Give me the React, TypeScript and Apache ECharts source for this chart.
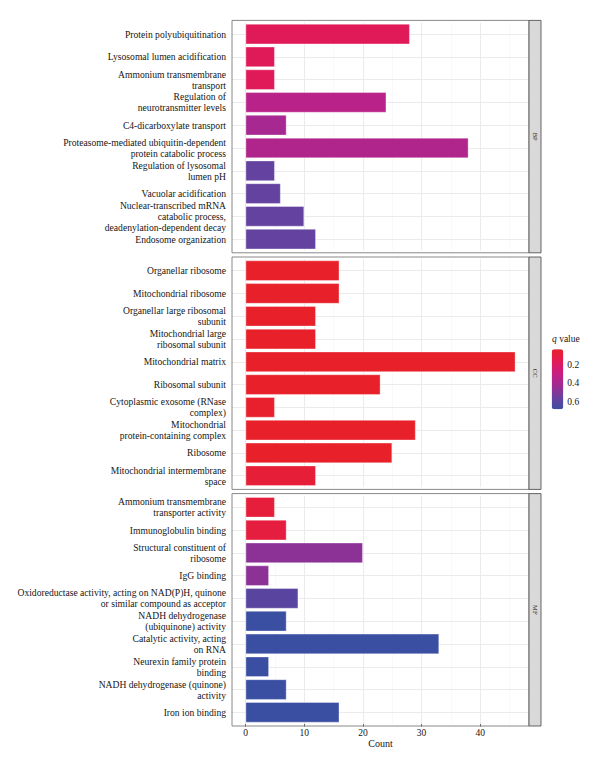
import React, { useEffect, useRef } from "react";
import * as echarts from "echarts";

// ---------------- data ----------------
const bpTerms = [
  "Protein polyubiquitination",
  "Lysosomal lumen acidification",
  "Ammonium transmembrane\ntransport",
  "Regulation of\nneurotransmitter levels",
  "C4-dicarboxylate transport",
  "Proteasome-mediated ubiquitin-dependent\nprotein catabolic process",
  "Regulation of lysosomal\nlumen pH",
  "Vacuolar acidification",
  "Nuclear-transcribed mRNA\ncatabolic process,\ndeadenylation-dependent decay",
  "Endosome organization",
];
const bpCounts = [28, 5, 5, 24, 7, 38, 5, 6, 10, 12];
const bpQ = [0.17, 0.17, 0.17, 0.34, 0.4, 0.37, 0.57, 0.57, 0.57, 0.57];

const ccTerms = [
  "Organellar ribosome",
  "Mitochondrial ribosome",
  "Organellar large ribosomal\nsubunit",
  "Mitochondrial large\nribosomal subunit",
  "Mitochondrial matrix",
  "Ribosomal subunit",
  "Cytoplasmic exosome (RNase\ncomplex)",
  "Mitochondrial\nprotein-containing complex",
  "Ribosome",
  "Mitochondrial intermembrane\nspace",
];
const ccCounts = [16, 16, 12, 12, 46, 23, 5, 29, 25, 12];
const ccQ = [0.03, 0.03, 0.03, 0.03, 0.03, 0.03, 0.04, 0.03, 0.03, 0.07];

const mfTerms = [
  "Ammonium transmembrane\ntransporter activity",
  "Immunoglobulin binding",
  "Structural constituent of\nribosome",
  "IgG binding",
  "Oxidoreductase activity, acting on NAD(P)H, quinone\nor similar compound as acceptor",
  "NADH dehydrogenase\n(ubiquinone) activity",
  "Catalytic activity, acting\non RNA",
  "Neurexin family protein\nbinding",
  "NADH dehydrogenase (quinone)\nactivity",
  "Iron ion binding",
];
const mfCounts = [5, 7, 20, 4, 9, 7, 33, 4, 7, 16];
const mfQ = [0.08, 0.09, 0.47, 0.47, 0.6, 0.68, 0.68, 0.68, 0.68, 0.68];

const facetLabels = ["BP", "CC", "MF"];
const countTicks = [0, 10, 20, 30, 40];
const countMinorTicks = [5, 15, 25, 35, 45];
const countRange = [-2.3, 48.3];
const qTicks = [0.2, 0.4, 0.6];
const qRange = [0.03, 0.68];
const qColors = ["#E8202A", "#E21A55", "#C91D82", "#A02A92", "#6C409E", "#3A4EA2"];

// ---------------- layout ----------------
const panelLeft = 232;
const panelW = 297;
const panelTop0 = 20.4;
const panelH = 232.4;
const panelStep = 236.6;
const band = panelH / 10.2;
const stripW = 12;
const serif = "'Liberation Serif', 'DejaVu Serif', serif";
const textColor = "#151515";

export default function App() {
  const ref = useRef<HTMLDivElement>(null);
  useEffect(() => {
    if (!ref.current) return;
    const chart = echarts.init(ref.current, undefined, { renderer: "svg" });
    const facets = [
      { terms: bpTerms, counts: bpCounts, q: bpQ },
      { terms: ccTerms, counts: ccCounts, q: ccQ },
      { terms: mfTerms, counts: mfCounts, q: mfQ },
    ];
    const panelTop = (i: number) => panelTop0 + i * panelStep;

    const grids: any[] = facets.map((_, i) => ({
      left: panelLeft,
      top: panelTop(i) + 0.1 * band,
      width: panelW,
      height: 10 * band,
      show: false,
    }));
    grids.push({ left: 551.7, top: 349.3, width: 11.6, height: 60, show: false });

    const xAxes: any[] = facets.map((_, i) => ({
      type: "value",
      gridIndex: i,
      min: countRange[0],
      max: countRange[1],
      show: i === 2,
      splitLine: { show: false },
      axisLine: { show: false },
      axisTick: {
        show: true,
        customValues: countTicks,
        length: 3,
        lineStyle: { color: "#444", width: 0.8 },
      },
      axisLabel: {
        customValues: countTicks,
        margin: 4,
        fontSize: 9.5,
        fontFamily: serif,
        color: textColor,
      },
      name: i === 2 ? "Count" : "",
      nameLocation: "middle",
      nameGap: 14,
      nameTextStyle: { fontSize: 10, fontFamily: serif, color: textColor },
    }));
    xAxes.push({ type: "value", gridIndex: 3, show: false, min: 0, max: 1 });

    const yAxes: any[] = facets.map((f, i) => ({
      type: "category",
      gridIndex: i,
      data: f.terms,
      inverse: true,
      axisLine: { show: false },
      splitLine: { show: false },
      axisTick: {
        show: true,
        alignWithLabel: true,
        length: 3,
        lineStyle: { color: "#555", width: 0.8 },
      },
      axisLabel: {
        interval: 0,
        margin: 6,
        fontSize: 9.6,
        lineHeight: 11,
        fontFamily: serif,
        color: textColor,
        align: "right",
      },
    }));
    yAxes.push({
      type: "value",
      gridIndex: 3,
      min: qRange[0],
      max: qRange[1],
      inverse: true,
      position: "right",
      axisLine: { show: false },
      splitLine: { show: false },
      axisTick: { show: false },
      axisLabel: {
        customValues: qTicks,
        margin: 4,
        fontSize: 9.5,
        fontFamily: serif,
        color: textColor,
        formatter: (v: number) => v.toFixed(1),
      },
    });

    const major = { color: "#EBEBEB", width: 1, type: "solid" };
    const minor = { color: "#F5F5F5", width: 0.6, type: "solid" };

    const series: any[] = facets.map((f, i) => ({
      type: "bar",
      xAxisIndex: i,
      yAxisIndex: i,
      barWidth: "90%",
      z: 2,
      data: f.terms.map((t, j) => [f.counts[j], t, f.q[j]]),
      encode: { x: 0, y: 1 },
      itemStyle: { borderColor: "rgba(255,255,255,0.45)", borderWidth: 0.8 },
      markLine: {
        silent: true,
        symbol: "none",
        z: 1,
        label: { show: false },
        emphasis: { disabled: true },
        data: [
          ...countMinorTicks.map((v) => ({ xAxis: v, lineStyle: minor })),
          ...countTicks.map((v) => ({ xAxis: v, lineStyle: major })),
          ...f.terms.map((t) => ({ yAxis: t, lineStyle: major })),
        ],
      },
    }));

    const graphics: any[] = [];
    facetLabels.forEach((lab, i) => {
      const top = panelTop(i);
      graphics.push({
        type: "rect",
        z: 10,
        shape: { x: panelLeft, y: top, width: panelW, height: panelH },
        style: { fill: "none", stroke: "#7a7a7a", lineWidth: 0.9 },
        silent: true,
      });
      graphics.push({
        type: "rect",
        z: 10,
        shape: { x: panelLeft + panelW, y: top, width: stripW, height: panelH },
        style: { fill: "#D9D9D9", stroke: "#555", lineWidth: 0.9 },
        silent: true,
      });
      graphics.push({
        type: "text",
        z: 11,
        x: panelLeft + panelW + stripW / 2,
        y: top + panelH / 2,
        rotation: -Math.PI / 2,
        style: {
          text: lab,
          fontSize: 6.5,
          fontFamily: serif,
          fill: "#1a1a1a",
          align: "center",
          verticalAlign: "middle",
        },
        silent: true,
      });
    });
    graphics.push({
      type: "text",
      left: 552,
      top: 334,
      style: {
        text: "{i|q} value",
        fontSize: 9.5,
        fontFamily: serif,
        fill: textColor,
        rich: { i: { fontStyle: "italic", fontSize: 9.5, fontFamily: serif, fill: textColor } },
      },
      silent: true,
    });

    chart.setOption({
      animation: false,
      backgroundColor: "#fff",
      grid: grids,
      xAxis: xAxes,
      yAxis: yAxes,
      visualMap: {
        type: "continuous",
        min: qRange[0],
        max: qRange[1],
        dimension: 2,
        seriesIndex: [0, 1, 2],
        inRange: { color: qColors },
        orient: "vertical",
        inverse: true,
        calculable: false,
        left: 551.7,
        top: 349.3,
        itemWidth: 11.6,
        itemHeight: 60,
        padding: 0,
        hoverLink: false,
      },
      series,
      graphic: graphics,
    });
    return () => chart.dispose();
  }, []);
  return (
    <div
      ref={ref}
      style={{ position: "fixed", left: 0, top: 0, width: 600, height: 769 }}
    />
  );
}
